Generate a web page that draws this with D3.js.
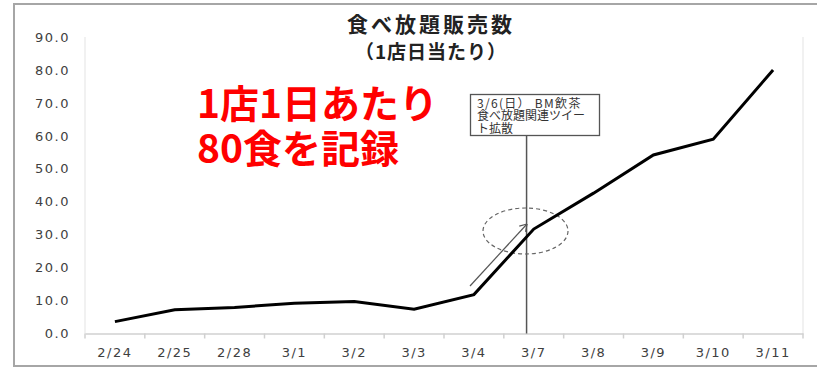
<!DOCTYPE html>
<html>
<head>
<meta charset="utf-8">
<script src="https://cdn.jsdelivr.net/npm/d3@7"></script>
<style>
  html, body { margin: 0; padding: 0; background: #fff; }
  svg { display: block; }
</style>
</head>
<body>
<script>
// Daily all-you-can-eat sales per store
const categories = ["2/24", "2/25", "2/28", "3/1", "3/2", "3/3", "3/4", "3/7", "3/8", "3/9", "3/10", "3/11"];
const sales = [3.6, 7.2, 7.9, 9.2, 9.7, 7.4, 11.8, 31.7, 42.6, 54.2, 59.0, 80.0];
const yTicks = [0, 10, 20, 30, 40, 50, 60, 70, 80, 90];
const titleLines = ["食べ放題販売数", "（1店日当たり）"];
const noteLines = ["3/6(日） BM飲茶", "食べ放題関連ツイー", "ト拡散"];
const callout = ["1店1日あたり", "80食を記録"];

const W = 817, H = 367;
const plot = { left: 85, right: 803, top: 37, bottom: 333.5 };

const svg = d3.select("body").append("svg").attr("width", W).attr("height", H);

// outer frame
svg.append("rect")
  .attr("x", 14).attr("y", 4).attr("width", 830).attr("height", 362)
  .attr("fill", "none").attr("stroke", "#a6a6a6").attr("stroke-width", 2);

const x = d3.scaleBand().domain(categories).range([plot.left, plot.right]).padding(0);
const y = d3.scaleLinear().domain([0, 90]).range([plot.bottom, plot.top]);
const cx = c => x(c) + x.bandwidth() / 2;

const numFont = "'DejaVu Sans', Verdana, sans-serif";
const jpFont = "'Noto Sans CJK JP', 'Noto Sans', sans-serif";

// plot area side lines
svg.append("line").attr("x1", plot.left).attr("x2", plot.left)
  .attr("y1", plot.top).attr("y2", plot.bottom).attr("stroke", "#e3e3e3").attr("stroke-width", 1);
svg.append("line").attr("x1", plot.right).attr("x2", plot.right)
  .attr("y1", plot.top).attr("y2", plot.bottom).attr("stroke", "#e3e3e3").attr("stroke-width", 1);

// y axis labels
const yAxis = d3.axisLeft(y).tickValues(yTicks).tickFormat(d3.format(".1f")).tickSize(0).tickPadding(15);
const gy = svg.append("g").attr("transform", `translate(${plot.left},0)`).call(yAxis);
gy.select(".domain").remove();
gy.selectAll("text")
  .attr("font-family", numFont).attr("font-size", 13)
  .attr("letter-spacing", "1.5px").attr("fill", "#404040");

// x axis with ticks at category boundaries
const xAxis = d3.axisBottom(x).tickSize(0).tickPadding(14);
const gx = svg.append("g").attr("transform", `translate(0,${plot.bottom})`).call(xAxis);
gx.select(".domain").attr("stroke", "#d0d0d0").attr("stroke-width", 1.5);
gx.selectAll("text")
  .attr("font-family", numFont).attr("font-size", 13)
  .attr("letter-spacing", "1.5px").attr("fill", "#404040");
const bounds = categories.map(c => x(c)).concat([plot.right]);
gx.selectAll(".bound").data(bounds).join("line").attr("class", "bound")
  .attr("x1", d => d).attr("x2", d => d).attr("y1", 0).attr("y2", 5)
  .attr("stroke", "#d0d0d0").attr("stroke-width", 1.5);

// title
svg.append("text").attr("x", 431).attr("y", 32).attr("text-anchor", "middle")
  .attr("font-family", jpFont).attr("font-weight", "bold").attr("font-size", 21)
  .attr("letter-spacing", "3px").attr("fill", "#222").text(titleLines[0]);
svg.append("text").attr("x", 431).attr("y", 59).attr("text-anchor", "middle")
  .attr("font-family", jpFont).attr("font-weight", "bold").attr("font-size", 19)
  .attr("letter-spacing", "1px").attr("fill", "#222").text(titleLines[1]);

// event marker: vertical line between 3/4 and 3/7
const eventX = cx("3/7") - 0.12 * x.bandwidth();
svg.append("line").attr("x1", eventX).attr("x2", eventX)
  .attr("y1", 136).attr("y2", plot.bottom).attr("stroke", "#555").attr("stroke-width", 1.5);

// note box
svg.append("rect").attr("x", 470.5).attr("y", 94.5).attr("width", 129).attr("height", 41)
  .attr("fill", "#fff").attr("stroke", "#555").attr("stroke-width", 1.3);
svg.append("g").selectAll("text").data(noteLines).join("text")
  .attr("x", 477).attr("y", (d, i) => 107.5 + i * 12.8)
  .attr("font-family", jpFont).attr("font-size", 12).attr("fill", "#333")
  .attr("letter-spacing", (d, i) => i === 0 ? "1.3px" : "0px")
  .text(d => d);

// dashed ellipse around the jump
svg.append("ellipse").attr("cx", 525.5).attr("cy", 231).attr("rx", 42.5).attr("ry", 23)
  .attr("fill", "none").attr("stroke", "#666").attr("stroke-width", 1.2)
  .attr("stroke-dasharray", "4,3");

// arrow along the rise
const ax1 = 470, ay1 = 286, ax2 = 527, ay2 = 224;
svg.append("line").attr("x1", ax1).attr("y1", ay1).attr("x2", ax2).attr("y2", ay2)
  .attr("stroke", "#555").attr("stroke-width", 1.2);
const ang = Math.atan2(ay2 - ay1, ax2 - ax1);
[ang + Math.PI * 0.82, ang - Math.PI * 0.82].forEach(a => {
  svg.append("line").attr("x1", ax2).attr("y1", ay2)
    .attr("x2", ax2 + 8 * Math.cos(a)).attr("y2", ay2 + 8 * Math.sin(a))
    .attr("stroke", "#555").attr("stroke-width", 1.2);
});

// sales line
const line = d3.line().x((d, i) => cx(categories[i])).y(d => y(d));
svg.append("path").datum(sales).attr("d", line)
  .attr("fill", "none").attr("stroke", "#000").attr("stroke-width", 3)
  .attr("stroke-linejoin", "miter");

// red callout text
svg.append("g").selectAll("text").data(callout).join("text")
  .attr("x", 197).attr("y", (d, i) => 118 + i * 45)
  .attr("font-family", jpFont).attr("font-weight", "bold").attr("font-size", 39)
  .attr("fill", "#ff0000").text(d => d);
</script>
</body>
</html>
